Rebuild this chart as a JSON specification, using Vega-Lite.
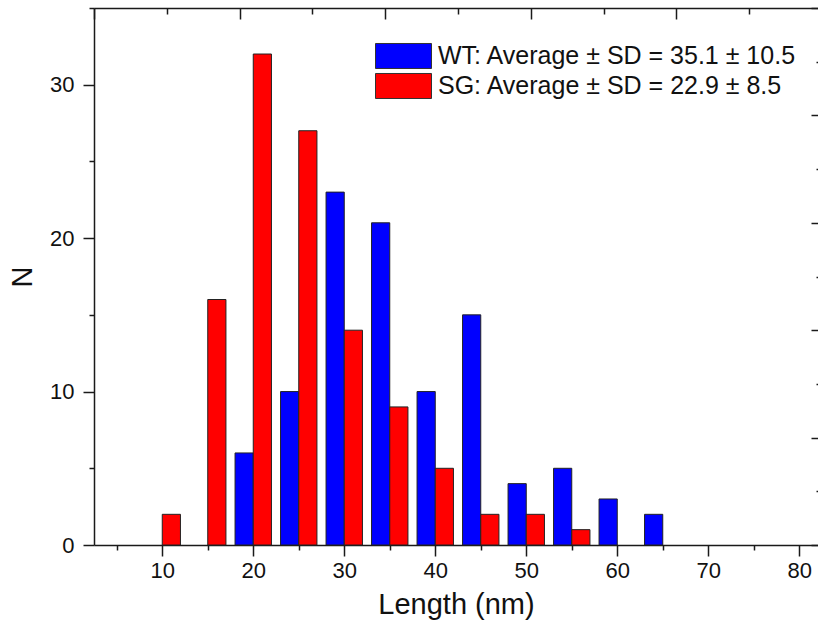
{
  "$schema": "https://vega.github.io/schema/vega-lite/v6.json",
  "width": 724,
  "height": 537,
  "autosize": {"type": "none"},
  "padding": {"left": 94, "top": 8, "right": 0, "bottom": 86},
  "background": "white",
  "config": {
    "font": "Liberation Sans",
    "view": {"stroke": null},
    "axis": {"grid": false, "domainColor": "#1a1a1a", "tickColor": "#1a1a1a", "domainWidth": 1.5, "tickWidth": 1.5, "labelColor": "#111", "titleColor": "#111", "labelFontSize": 22, "titleFontSize": 29, "titleFontWeight": "normal", "labelFlush": false, "labelOverlap": false}
  },
  "data": {
    "values": [
      {"series": "WT: Average ± SD = 35.1 ± 10.5", "x0": 18, "x1": 20, "n": 6},
      {"series": "WT: Average ± SD = 35.1 ± 10.5", "x0": 23, "x1": 25, "n": 10},
      {"series": "WT: Average ± SD = 35.1 ± 10.5", "x0": 28, "x1": 30, "n": 23},
      {"series": "WT: Average ± SD = 35.1 ± 10.5", "x0": 33, "x1": 35, "n": 21},
      {"series": "WT: Average ± SD = 35.1 ± 10.5", "x0": 38, "x1": 40, "n": 10},
      {"series": "WT: Average ± SD = 35.1 ± 10.5", "x0": 43, "x1": 45, "n": 15},
      {"series": "WT: Average ± SD = 35.1 ± 10.5", "x0": 48, "x1": 50, "n": 4},
      {"series": "WT: Average ± SD = 35.1 ± 10.5", "x0": 53, "x1": 55, "n": 5},
      {"series": "WT: Average ± SD = 35.1 ± 10.5", "x0": 58, "x1": 60, "n": 3},
      {"series": "WT: Average ± SD = 35.1 ± 10.5", "x0": 63, "x1": 65, "n": 2},
      {"series": "SG: Average ± SD = 22.9 ± 8.5", "x0": 10, "x1": 12, "n": 2},
      {"series": "SG: Average ± SD = 22.9 ± 8.5", "x0": 15, "x1": 17, "n": 16},
      {"series": "SG: Average ± SD = 22.9 ± 8.5", "x0": 20, "x1": 22, "n": 32},
      {"series": "SG: Average ± SD = 22.9 ± 8.5", "x0": 25, "x1": 27, "n": 27},
      {"series": "SG: Average ± SD = 22.9 ± 8.5", "x0": 30, "x1": 32, "n": 14},
      {"series": "SG: Average ± SD = 22.9 ± 8.5", "x0": 35, "x1": 37, "n": 9},
      {"series": "SG: Average ± SD = 22.9 ± 8.5", "x0": 40, "x1": 42, "n": 5},
      {"series": "SG: Average ± SD = 22.9 ± 8.5", "x0": 45, "x1": 47, "n": 2},
      {"series": "SG: Average ± SD = 22.9 ± 8.5", "x0": 50, "x1": 52, "n": 2},
      {"series": "SG: Average ± SD = 22.9 ± 8.5", "x0": 55, "x1": 57, "n": 1}
    ]
  },
  "layer": [
    {
      "mark": {"type": "bar", "stroke": "#222", "strokeWidth": 1, "opacity": 1},
      "encoding": {
        "x": {
          "field": "x0", "type": "quantitative",
          "scale": {"domain": [2.5, 82.06], "nice": false, "zero": false},
          "axis": {
            "orient": "bottom",
            "values": [5, 10, 15, 20, 25, 30, 35, 40, 45, 50, 55, 60, 65, 70, 75, 80],
            "labelExpr": "datum.value % 10 === 0 ? datum.label : ''",
            "tickSize": {"condition": {"test": "datum.value % 10 === 0", "value": 11}, "value": 5},
            "labelPadding": 4,
            "title": "Length (nm)",
            "titlePadding": 9
          }
        },
        "x2": {"field": "x1"},
        "y": {
          "field": "n", "type": "quantitative",
          "scale": {"domain": [0, 35], "nice": false},
          "axis": {
            "orient": "left",
            "values": [0, 5, 10, 15, 20, 25, 30, 35],
            "labelExpr": "datum.value % 10 === 0 ? datum.label : ''",
            "tickSize": {"condition": {"test": "datum.value % 10 === 0", "value": 11}, "value": 5},
            "labelPadding": 9,
            "title": "N",
            "titlePadding": 12
          }
        },
        "y2": {"datum": 0},
        "color": {
          "field": "series", "type": "nominal",
          "scale": {"domain": ["WT: Average ± SD = 35.1 ± 10.5", "SG: Average ± SD = 22.9 ± 8.5"], "range": ["#0000ff", "#ff0000"]},
          "legend": {
            "orient": "none", "legendX": 295, "legendY": 33.5, "title": null, "padding": 0,
            "symbolType": "M-2,-0.893H2V0.893H-2Z", "symbolSize": 784,
            "symbolStrokeColor": "#333", "symbolStrokeWidth": 1, "symbolOpacity": 1,
            "labelFontSize": 25, "labelOffset": 20, "labelLimit": 0, "labelColor": "#111",
            "rowPadding": -3
          }
        }
      }
    },
    {
      "mark": {"type": "bar", "opacity": 0},
      "encoding": {
        "x": {
          "field": "x0", "type": "quantitative",
          "axis": {
            "orient": "top",
            "values": [2.5, 10.5, 18.5, 26.5, 34.5, 42.5, 50.5, 58.5, 66.5, 74.5],
            "labels": false, "title": null,
            "tickSize": {"condition": {"test": "(datum.value - 2.5) % 16 === 0", "value": -11}, "value": -6}
          }
        },
        "x2": {"field": "x1"},
        "y": {
          "field": "n", "type": "quantitative",
          "axis": {
            "orient": "right",
            "values": [0, 3.5, 7, 10.5, 14, 17.5, 21, 24.5, 28, 31.5, 35],
            "labels": false, "title": null, "domain": false,
            "tickSize": {"condition": {"test": "datum.value % 7 === 0", "value": -7}, "value": -2}
          }
        },
        "y2": {"datum": 0}
      }
    }
  ],
  "resolve": {"axis": {"x": "independent", "y": "independent"}}
}
